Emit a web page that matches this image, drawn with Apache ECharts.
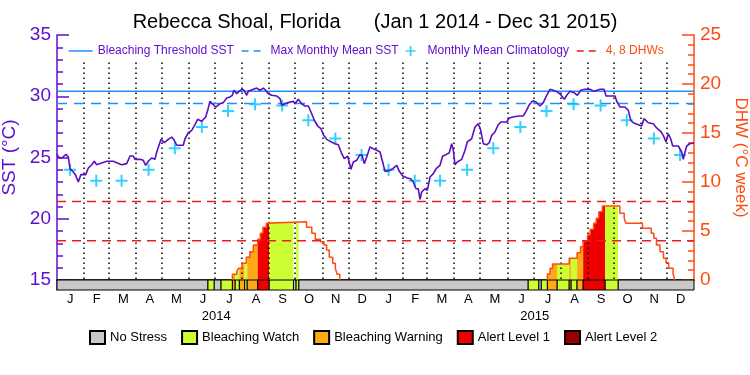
<!DOCTYPE html>
<html><head><meta charset="utf-8">
<script src="https://cdn.jsdelivr.net/npm/echarts@6/dist/echarts.min.js"></script>
<style>html,body{margin:0;padding:0;background:#fff}#c{width:750px;height:375px}</style>
</head><body><div id="c"></div>
<script>
// ---- data (x in days since Jan 1 2014) ----
const sstDays = [0,1.5,5.4,10.3,13,14.9,18.7,21.4,24.4,26.4,27.5,32.9,35.9,39.8,42.7,45.5,47.3,51.2,57,64.5,68.4,74.1,79.9,83.7,87.4,89.4,95.1,98.9,101.6,104.6,108.5,112.3,114.3,116.9,119.2,123,127.5,131.4,134.4,137.2,144.7,146.7,150.5,154.4,158.1,161.2,165.8,170.4,172.7,175.3,179.1,181.9,186.8,190.6,194.5,198.3,200.9,202.8,205.9,208.6,211.7,214.3,217.4,219.2,225,228.9,232.6,236.4,239.2,242.1,246,251.8,255.6,257.5,261.3,265.1,270.8,272.7,276.5,280.4,284.2,288,291.9,294.9,298.8,302.5,305.2,309.1,312.9,318.6,322.4,326.3,329.2,333.1,336.9,339.6,343.5,347.2,349.5,352.2,354.9,358.7,362.5,366.4,370.2,373.2,375.9,381.6,385.4,389.3,392.3,396.2,401.4,405.3,408.3,411.4,414,416,417.9,421.7,424.4,427.5,431.2,435.1,438.9,442,445.8,449.6,452.3,454.2,456.1,458.7,463.8,467.6,470.2,475.2,479,482.8,485.6,488.5,492.4,495.4,498.2,501.9,505.7,508.5,515.4,518.3,523.7,529.8,534.4,537.5,541.3,545.2,549,553.5,557.3,561.2,565,568.8,573.4,577.2,581.4,584.1,587.9,592.5,596.3,600.2,605.1,610.8,615.4,622.3,626.9,629.2,639.5,641.4,645.2,650.9,654.7,657.5,660.4,666.2,670,672.7,677.6,683.3,687.2,691.8,694.8,697.9,700.5,703.3,705.6,712,715.9,717.7,719.7,721.6,725.4,730];
const sstVals = [25.31,25.04,24.96,25.26,25.04,24.09,23.82,23.55,23.0,23.41,23.6,23.6,24.14,24.41,24.69,24.41,24.36,24.55,24.69,24.69,24.58,24.41,24.5,25.12,25.12,24.85,24.85,24.77,24.36,24.69,24.96,24.85,25.45,26.0,26.48,26.21,26.48,26.67,26.4,26.0,26.0,26.53,27.02,27.22,27.68,28.12,27.96,28.31,28.85,29.59,29.31,29.12,29.39,29.48,29.86,29.94,30.08,30.49,30.21,30.4,30.57,30.49,30.08,30.4,30.57,30.67,30.49,30.67,30.49,30.21,30.08,30.02,29.8,29.26,29.39,29.48,29.59,29.39,29.75,29.39,29.2,29.2,28.57,28.04,27.57,27.35,26.86,26.48,26.32,26.13,26.04,25.31,24.9,25.12,24.04,24.63,24.77,25.23,25.2,24.5,25.04,25.86,25.72,25.59,25.45,24.63,23.87,23.95,24.14,24.36,23.87,23.49,23.33,23.27,23.0,22.45,22.45,21.59,22.18,22.45,22.32,23.41,23.68,24.14,24.36,25.12,25.23,25.39,26.13,25.59,24.41,24.63,24.85,25.59,26.27,26.53,27.49,27.76,27.22,26.13,26.04,26.21,26.81,27.08,27.68,27.9,27.9,28.22,28.33,28.39,28.39,28.77,29.31,29.64,29.53,29.2,29.48,30.08,30.57,30.49,30.35,30.13,29.75,30.08,30.4,30.29,30.08,30.49,30.57,30.57,30.4,30.57,30.57,30.02,30.02,29.59,29.12,29.12,28.85,28.04,27.84,27.68,27.57,28.17,27.84,27.76,27.41,27.14,26.81,26.27,26.94,26.53,25.94,25.94,25.45,24.85,25.45,25.94,26.13,26.21];

const climDays = [15,45,74,105,135,166,196,227,258,288,319,349,380,410,439,470,500,531,561,592,623,653,684,714];
const climVals = [24.0,23.1,23.1,24.0,25.75,27.5,28.8,29.35,29.25,28.05,26.55,25.2,24.0,23.1,23.1,24.0,25.75,27.5,28.8,29.35,29.25,28.05,26.55,25.2];

const bleachThreshold = 30.4;
const maxMonthlyMean = 29.4;
const dhwLevels = [4, 8];

const dhwDays14 = [201,201,206,208,212,217,221,225,230,233,236,240,242,286,292,296,302,306,309,312,316,319,321,324];
const dhwVals14 = [0,0.58,0.85,1.19,1.7,2.31,2.89,3.57,4.15,4.76,5.37,5.78,5.95,5.37,4.76,4.15,3.91,3.57,3.06,2.31,1.7,1.19,0.58,0];
const dhwDays15 = [562,562,565,568,587,596,600,603,608,611,615,618,621,625,645,650,652,671,681,684,687,691,695,698,701,706,708];
const dhwVals15 = [0,0.61,1.19,1.63,2.21,2.79,3.4,4.01,4.59,5.17,5.78,6.29,6.97,7.55,6.8,6.29,5.78,5.27,4.76,4.25,3.57,2.89,2.21,1.77,1.19,0.61,0];

const stressStart = [0,173,180,188,201,204,209,215,218,230,243,271,274,277,540,552,555,562,573,587,589,596,603,628,643];
const stressEnd   = [173,180,188,201,204,209,215,218,230,243,271,274,277,540,552,555,562,573,587,589,596,603,628,643,730];
const stressLevel = [0,1,0,1,2,1,2,1,2,3,1,0,1,0,1,0,1,2,1,2,1,2,3,1,0];
const levelNames = ['No Stress','Bleaching Watch','Bleaching Warning','Alert Level 1','Alert Level 2'];

const monthStarts = [31,59,90,120,151,181,212,243,273,304,334,365,396,424,455,485,516,546,577,608,638,669,699];
const monthLetters = ['J','F','M','A','M','J','J','A','S','O','N','D','J','F','M','A','M','J','J','A','S','O','N','D'];
const yearLabels = ['2014','2015'];

// ---- styles ----
const FONT = "'Liberation Sans',Arial,sans-serif";
const PURPLE = '#6010d0';
const SSTLINE = '#5a0fc0';
const ORANGE = '#ff4a10';
const DHWRED = '#ee1c1c';
const BLUE = '#1e90ff';
const CYAN = '#00c4ff';
const levelColors = ['#c8c8c8','#ccff33','#ffaa14','#ee0000','#990000'];

const zip = (a,b) => a.map((v,i)=>[v,b[i]]);
const sstData = zip(sstDays, sstVals);
const climData = zip(climDays, climVals);
const dhw14 = zip(dhwDays14, dhwVals14);
const dhw15 = zip(dhwDays15, dhwVals15);
const dhwAll = dhw14.concat(dhw15);
const segData = stressStart.map((s,i)=>[s, stressEnd[i], stressLevel[i]]);

function stepAt(d){ let v=0; for(const p of dhwAll){ if(p[0]<=d) v=p[1]; else break; } return v; }

const chart = echarts.init(document.getElementById('c'), null, {renderer:'canvas'});
const markData = monthStarts.map(d => [{coord:[d,32.75]},{coord:[d,15]}]);

function stripSeries(level){
  return {
    name: levelNames[level], type:'custom', xAxisIndex:1, yAxisIndex:2, z:3,
    itemStyle:{color:levelColors[level], borderColor:'#000', borderWidth:1},
    encode:{x:[0,1]},
    data: segData.filter(s=>s[2]===level),
    renderItem:(params, api)=>{
      const a = api.coord([api.value(0),1]);
      const b = api.coord([api.value(1),0]);
      return {type:'rect', shape:{x:a[0], y:a[1], width:b[0]-a[0], height:b[1]-a[1]},
        style:{fill:levelColors[level], stroke:'#000', lineWidth:1}};
    }
  };
}

const hideSym = {opacity:0};
const option = {
  animation:false,
  backgroundColor:'#fff',
  textStyle:{fontFamily:FONT},
  title:{text:'Rebecca Shoal, Florida      (Jan 1 2014 - Dec 31 2015)', left:'center', top:7,
    textStyle:{fontSize:20, fontWeight:'normal', color:'#000', fontFamily:FONT}},
  legend:[
    {top:40, left:63, itemWidth:24, itemHeight:10, itemGap:7,
     textStyle:{fontSize:12, fontFamily:FONT},
     data:[
      {name:'Bleaching Threshold SST', textStyle:{color:PURPLE}, itemStyle:hideSym, lineStyle:{width:1.5}},
      {name:'Max Monthly Mean SST', textStyle:{color:PURPLE}, itemStyle:hideSym, lineStyle:{width:1.5, type:[7,5]}},
      {name:'Monthly Mean Climatology', textStyle:{color:PURPLE}},
      {name:'4, 8 DHWs', textStyle:{color:ORANGE}, itemStyle:hideSym, lineStyle:{width:1.5, type:[7,5]}}
     ]},
    {top:325, left:84, itemWidth:15, itemHeight:13, itemGap:14, icon:'rect',
     textStyle:{fontSize:13, color:'#000', fontFamily:FONT},
     data: levelNames}
  ],
  grid:[{left:57, right:56, top:35, height:245, containLabel:false, outerBoundsMode:'none'},
        {left:57, right:56, top:280, height:10, containLabel:false, outerBoundsMode:'none'}],
  xAxis:[
    {type:'value', gridIndex:0, min:0, max:730, position:'top',
     axisLine:{show:true, lineStyle:{color:'#000', width:1.5}}, axisTick:{show:false}, axisLabel:{show:false}, splitLine:{show:false}},
    {type:'value', gridIndex:1, min:0, max:730, show:false},
    {type:'category', gridIndex:1, data:monthLetters, position:'bottom',
     axisLine:{show:false}, axisTick:{show:false}, axisLabel:{color:'#000', fontSize:13, margin:3, fontFamily:FONT}},
    {type:'category', gridIndex:1, data:yearLabels, position:'bottom', offset:17,
     axisLine:{show:false}, axisTick:{show:false}, axisLabel:{color:'#000', fontSize:13, margin:3, fontFamily:FONT}}
  ],
  yAxis:[
    {type:'value', gridIndex:0, min:15, max:35, interval:5, position:'left',
     axisLine:{show:true, lineStyle:{color:PURPLE, width:1.5}},
     axisTick:{show:true, inside:true, length:12, lineStyle:{color:PURPLE, width:1.5}},
     minorTick:{show:true, splitNumber:5, length:6, lineStyle:{color:PURPLE, width:1.5}},
     axisLabel:{color:PURPLE, fontSize:19, margin:6, fontFamily:FONT},
     splitLine:{show:false},
     name:'SST (°C)', nameLocation:'middle', nameGap:32, nameRotate:90,
     nameTextStyle:{color:PURPLE, fontSize:19, fontFamily:FONT}},
    {type:'value', gridIndex:0, min:0, max:25, interval:5, position:'right',
     axisLine:{show:true, lineStyle:{color:ORANGE, width:1.5}},
     axisTick:{show:true, inside:true, length:12, lineStyle:{color:ORANGE, width:1.5}},
     minorTick:{show:true, splitNumber:5, length:6, lineStyle:{color:ORANGE, width:1.5}},
     axisLabel:{color:ORANGE, fontSize:19, margin:6, fontFamily:FONT},
     splitLine:{show:false},
     name:'DHW (°C week)', nameLocation:'middle', nameGap:37, nameRotate:-90,
     nameTextStyle:{color:ORANGE, fontSize:17, fontFamily:FONT}},
    {type:'value', gridIndex:1, min:0, max:1, position:'left',
     axisLine:{show:true, lineStyle:{color:PURPLE, width:1.5}}, axisTick:{show:false}, axisLabel:{show:false}, splitLine:{show:false}}
  ],
  series:[
    {name:'stressFill', type:'custom', xAxisIndex:0, yAxisIndex:1, z:1, silent:true,
     encode:{x:[0,1]}, data:segData,
     renderItem:(params, api)=>{
       const s=api.value(0), e=api.value(1), lv=api.value(2);
       if(lv<1) return null;
       let cur=stepAt(s);
       const pts=[[s,0],[s,cur]];
       for(const p of dhwAll){ if(p[0]>s && p[0]<e){ pts.push([p[0],cur]); cur=p[1]; pts.push([p[0],cur]); } }
       pts.push([e,cur],[e,0]);
       return {type:'polygon', shape:{points:pts.map(p=>api.coord(p))}, style:{fill:levelColors[lv]}};
     }},
    {name:'dhw14', type:'line', xAxisIndex:0, yAxisIndex:1, step:'end', symbol:'none', z:4,
     lineStyle:{color:ORANGE, width:1.5}, data:dhw14},
    {name:'dhw15', type:'line', xAxisIndex:0, yAxisIndex:1, step:'end', symbol:'none', z:4,
     lineStyle:{color:ORANGE, width:1.5}, data:dhw15},
    {name:'Bleaching Threshold SST', type:'line', xAxisIndex:0, yAxisIndex:0, symbol:'none', z:5,
     color:BLUE, lineStyle:{color:BLUE, width:1.5}, data:[[0,bleachThreshold],[730,bleachThreshold]]},
    {name:'Max Monthly Mean SST', type:'line', xAxisIndex:0, yAxisIndex:0, symbol:'none', z:5,
     color:BLUE, lineStyle:{color:BLUE, width:1.5, type:[10,7]}, data:[[0,maxMonthlyMean],[730,maxMonthlyMean]]},
    {name:'Monthly Mean Climatology', type:'scatter', xAxisIndex:0, yAxisIndex:0, z:6,
     symbol:'path://M5,0H7V5H12V7H7V12H5V7H0V5H5Z', symbolSize:12,
     itemStyle:{color:CYAN}, data:climData},
    {name:'4, 8 DHWs', type:'line', xAxisIndex:0, yAxisIndex:1, symbol:'none', z:5,
     color:DHWRED, lineStyle:{color:DHWRED, width:1.5, type:[9,6]}, data:[[0,dhwLevels[0]],[730,dhwLevels[0]]]},
    {name:'4, 8 DHWs', type:'line', xAxisIndex:0, yAxisIndex:1, symbol:'none', z:5,
     color:DHWRED, lineStyle:{color:DHWRED, width:1.5, type:[9,6]}, data:[[0,dhwLevels[1]],[730,dhwLevels[1]]]},
    {name:'SST', type:'line', xAxisIndex:0, yAxisIndex:0, symbol:'none', z:7,
     lineStyle:{color:SSTLINE, width:1.6}, data:sstData,
     markLine:{silent:true, symbol:'none', label:{show:false}, z:2,
       lineStyle:{color:'#000', width:1.5, type:[1.5,3.5]}, data:markData}},
    stripSeries(0), stripSeries(1), stripSeries(2), stripSeries(3), stripSeries(4)
  ]
};
chart.setOption(option);
</script></body></html>
